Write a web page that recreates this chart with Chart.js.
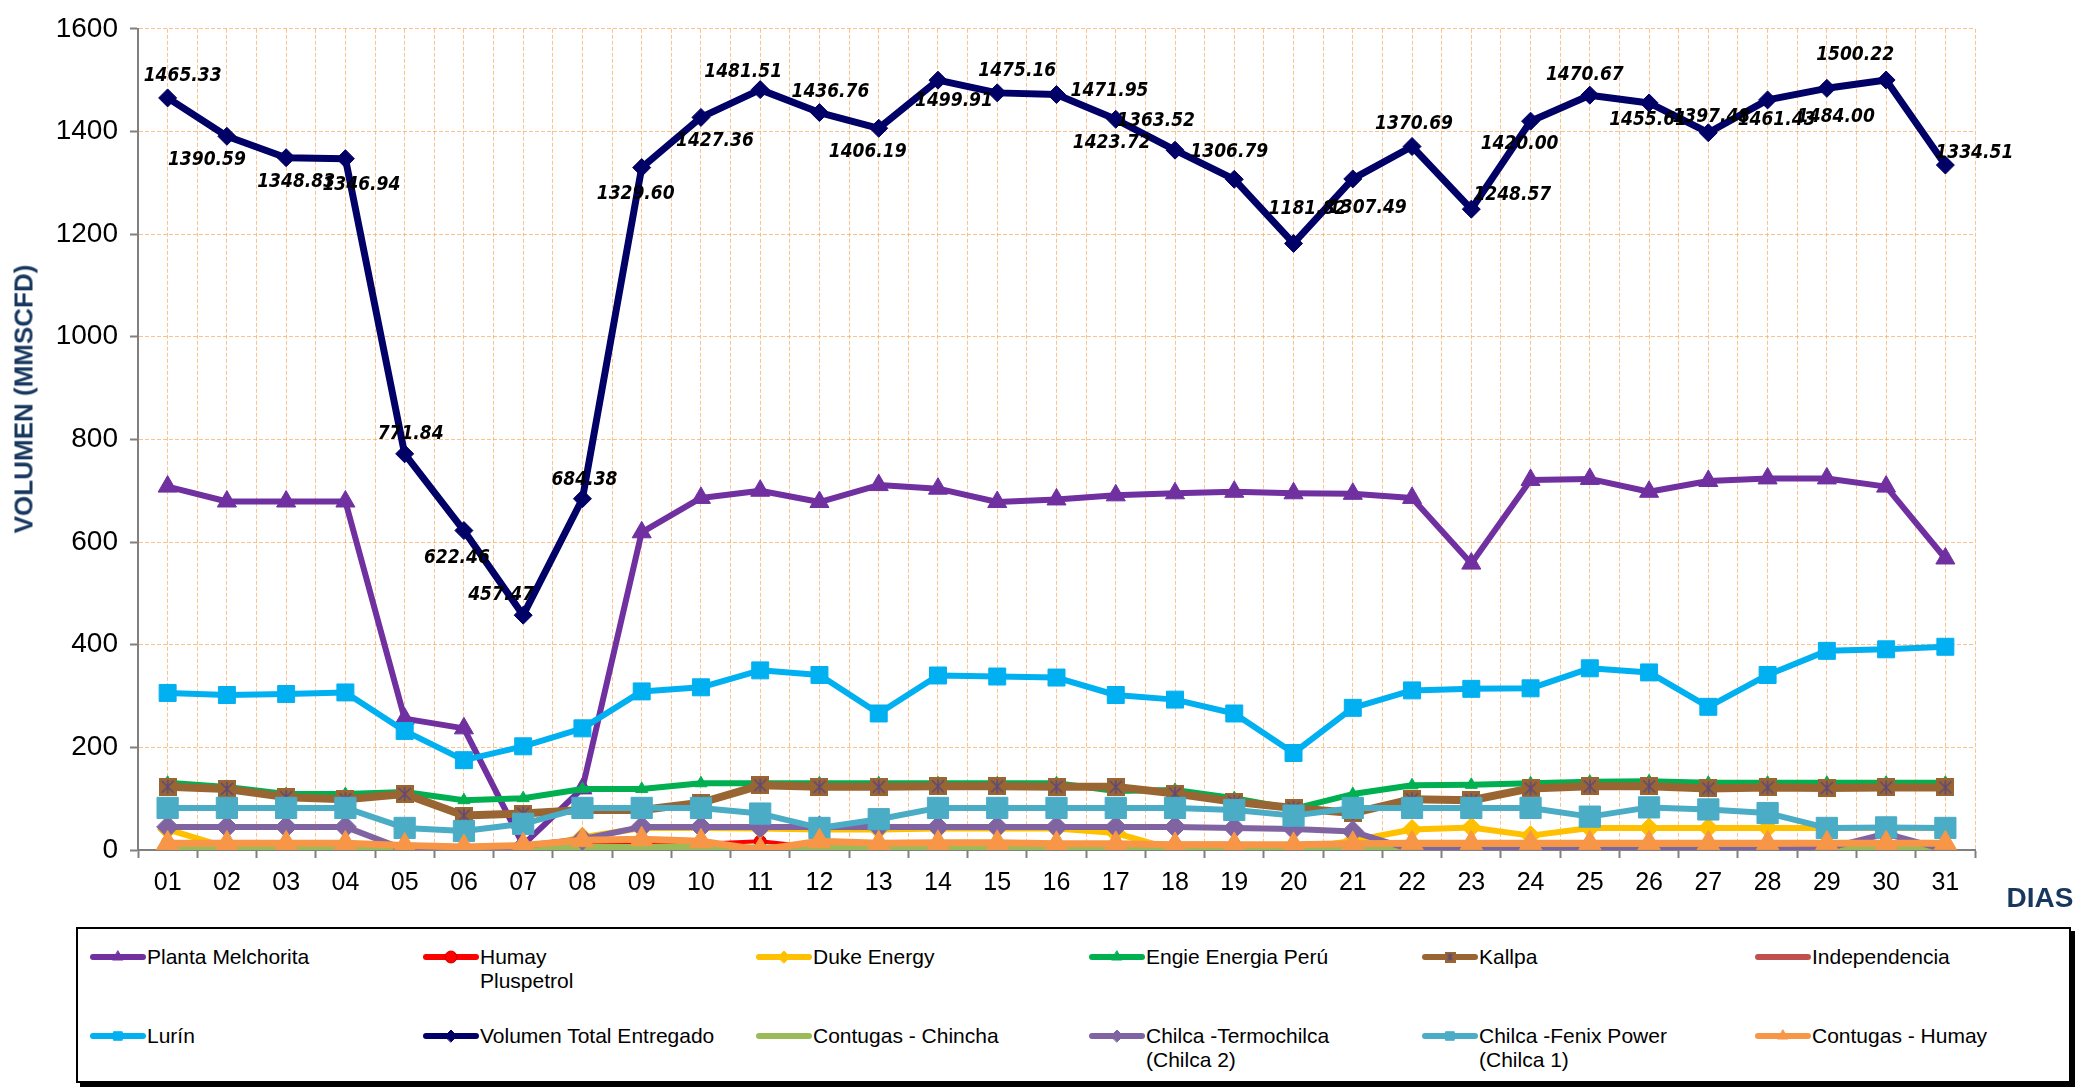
<!DOCTYPE html>
<html>
<head>
<meta charset="utf-8">
<script src="https://cdn.jsdelivr.net/npm/chart.js@4.4.1/dist/chart.umd.min.js"></script>
<style>
  html, body { margin: 0; padding: 0; background: #fff; }
  #page { position: relative; width: 2100px; height: 1089px; overflow: hidden; font-family: 'Liberation Sans', Arial, sans-serif; }
  #chartWrap { position: absolute; left: 0; top: 0; width: 2100px; height: 925px; }
  .axis-title { position: absolute; color: #17375E; font-weight: bold; white-space: nowrap; }
  #yTitle { left: 24px; top: 399px; font-size: 26px; transform: translate(-50%, -50%) rotate(-90deg); }
  #xTitle { left: 2040px; top: 898px; font-size: 28px; transform: translate(-50%, -50%); }
  #legend { position: absolute; left: 76px; top: 927px; width: 1995px; height: 156px; border: 2px solid #000;
            box-shadow: 4px 4px 0 #000; box-sizing: border-box; background: #fff; }
  .item { position: absolute; display: flex; align-items: flex-start; font-size: 21px; line-height: 24px; color: #000; white-space: pre; }
  .item canvas { flex: none; }
</style>
</head>
<body>
<div id="page">
  <div id="chartWrap"><canvas id="chart" width="2100" height="925"></canvas></div>
  <div class="axis-title" id="yTitle">VOLUMEN (MMSCFD)</div>
  <div class="axis-title" id="xTitle">DIAS</div>
  <div id="legend"></div>
</div>
<script>
// Días del mes
const days = ['01','02','03','04','05','06','07','08','09','10','11','12','13','14','15','16',
              '17','18','19','20','21','22','23','24','25','26','27','28','29','30','31'];

// Volúmenes diarios por punto de entrega (MMSCFD)
const melchorita = [708, 679, 679, 679, 256, 237, 10, 120, 619, 686, 700, 678, 711, 704, 678, 683,
                    691, 695, 698, 695, 694, 686, 558, 721, 723, 698, 719, 724, 724, 708, 568];
const humay = [15, 0, 0, 0, 0, 0, 0, 10, 12, 12, 17, 5, 3, 3, 3, 3,
               3, 12, 12, 0, 0, 0, 0, 0, 0, 0, 0, 0, 0, 0, 0];
const duke = [40, 5, 0, 0, 2, 0, 0, 25, 43, 43, 42, 40, 40, 42, 42, 42,
              33, 0, 0, 0, 18, 40, 44, 28, 43, 43, 43, 43, 43, 43, 43];
const engie = [131, 123, 109, 109, 113, 97, 101, 119, 119, 130, 130, 130, 130, 130, 130, 130,
               115, 117, 101, 80, 109, 126, 127, 130, 133, 134, 131, 131, 131, 131, 131];
const kallpa = [123, 119, 103, 99, 109, 67, 71, 78, 78, 92, 126, 123, 123, 124, 124, 123,
                123, 110, 94, 82, 72, 99, 97, 120, 124, 124, 120, 122, 121, 122, 122];
const independencia = [0, 0, 0, 0, 0, 0, 0, 0, 0, 0, 0, 0, 0, 0, 0, 0,
                       0, 0, 0, 0, 0, 0, 0, 0, 0, 0, 0, 0, 0, 0, 0];
const lurin = [306, 302, 304, 307, 232, 175, 202, 237, 309, 317, 350, 341, 266, 340, 338, 336,
               302, 293, 266, 189, 277, 311, 314, 315, 354, 346, 279, 341, 388, 391, 396];
const total = [1465.33, 1390.59, 1348.83, 1346.94, 771.84, 622.46, 457.47, 684.38, 1329.60, 1427.36,
               1481.51, 1436.76, 1406.19, 1499.91, 1475.16, 1471.95, 1423.72, 1363.52, 1306.79, 1181.82,
               1307.49, 1370.69, 1248.57, 1420.00, 1470.67, 1455.61, 1397.48, 1461.43, 1484.00, 1500.22, 1334.51];
const chincha = [5, 5, 5, 5, 5, 5, 5, 6, 6, 6, 5, 6, 6, 6, 6, 6,
                 6, 6, 6, 6, 6, 6, 6, 6, 6, 6, 6, 6, 6, 6, 6];
const termochilca = [45, 45, 45, 45, 1, 0, 8, 21, 45, 45, 45, 45, 45, 45, 45, 45,
                     45, 45, 43, 41, 36, 0, 0, 0, 0, 0, 0, 0, 3, 32, 0];
const fenix = [82, 82, 82, 82, 43, 37, 51, 82, 82, 82, 71, 43, 60, 82, 82, 82,
               82, 82, 78, 67, 82, 82, 82, 82, 65, 83, 79, 72, 43, 44, 43];
const contugasHumay = [13, 13, 13, 13, 9, 6, 9, 19, 21, 17, 0, 17, 13, 14, 14, 12,
                       12, 10, 10, 10, 12, 13, 13, 13, 13, 13, 13, 13, 13, 13, 13];

// Posición de las etiquetas del total respecto a cada punto (dx, dy en px)
const labelOffsets = [[15,-22],[-20,24],[10,24],[16,26],[6,-20],[-7,28],[-22,-20],[2,-19],[-6,26],[14,24],
                      [-17,-18],[11,-21],[-11,24],[16,21],[20,-22],[53,-3],[-4,24],[-19,-29],[-5,-27],[14,-34],
                      [15,29],[2,-22],[41,-14],[-11,23],[-5,-20],[-1,17],[3,-16],[9,20],[9,29],[-31,-25],[29,-12]];

const GRID = 'rgba(247,168,95,0.7)';
const AXIS = '#808080';
const FONT = "'Liberation Sans', Arial, sans-serif";
const LABEL_FONT = "italic bold 19px 'DejaVu Sans Condensed', 'DejaVu Sans', sans-serif";

// Marcador de Kallpa: cuadro marrón con estrella
function kallpaMarker(size) {
  const c = document.createElement('canvas');
  c.width = c.height = size;
  const g = c.getContext('2d');
  g.fillStyle = '#996633';
  g.fillRect(0, 0, size, size);
  g.strokeStyle = '#5F497A';
  g.lineWidth = 1.6;
  g.beginPath();
  g.moveTo(3, 3); g.lineTo(size - 3, size - 3);
  g.moveTo(size - 3, 3); g.lineTo(3, size - 3);
  g.moveTo(size / 2, 2); g.lineTo(size / 2, size - 2);
  g.stroke();
  return c;
}

const SERIES = [
  { label: 'Planta Melchorita', data: melchorita, color: '#7030A0', style: 'triangle', r: 11, w: 6 },
  { label: 'Humay\nPluspetrol', data: humay, color: '#FF0000', style: 'circle', r: 6, w: 4, edge: '#C00000' },
  { label: 'Duke Energy', data: duke, color: '#FFC000', style: 'rectRot', r: 10, w: 6 },
  { label: 'Engie Energia Perú', data: engie, color: '#00B050', style: 'triangle', r: 7, w: 6 },
  { label: 'Kallpa', data: kallpa, color: '#996633', style: kallpaMarker(18), legendStyle: kallpaMarker(11), r: 9, w: 8 },
  { label: 'Independencia', data: independencia, color: '#C0504D', style: false, r: 0, w: 4 },
  { label: 'Lurín', data: lurin, color: '#00B0F0', style: 'rect', r: 12, w: 6 },
  { label: 'Volumen Total Entregado', data: total, color: '#000066', style: 'rectRot', r: 9, w: 7 },
  { label: 'Contugas - Chincha', data: chincha, color: '#9BBB59', style: false, r: 0, w: 6 },
  { label: 'Chilca -Termochilca\n(Chilca 2)', data: termochilca, color: '#8064A2', style: 'rectRot', r: 11, w: 6 },
  { label: 'Chilca -Fenix Power\n(Chilca 1)', data: fenix, color: '#4BACC6', style: 'rect', r: 15, w: 6 },
  { label: 'Contugas - Humay', data: contugasHumay, color: '#F79646', style: 'triangle', r: 13, w: 7 },
];

const totalLabels = {
  id: 'totalLabels',
  afterDatasetsDraw(chart) {
    const idx = SERIES.findIndex(s => s.data === total);
    const meta = chart.getDatasetMeta(idx);
    const ctx = chart.ctx;
    ctx.save();
    ctx.font = LABEL_FONT;
    ctx.fillStyle = '#000';
    ctx.textAlign = 'center';
    ctx.textBaseline = 'middle';
    meta.data.forEach((pt, i) => {
      const [dx, dy] = labelOffsets[i];
      ctx.fillText(total[i].toFixed(2), pt.x + dx, pt.y + dy);
    });
    ctx.restore();
  }
};

new Chart(document.getElementById('chart'), {
  type: 'line',
  data: {
    labels: days,
    datasets: SERIES.map((s, i) => ({
      label: s.label.replace('\n', ' '),
      data: s.data,
      order: SERIES.length - i,
      borderColor: s.color,
      backgroundColor: s.color,
      borderWidth: s.w,
      borderJoinStyle: 'round',
      borderCapStyle: 'round',
      tension: 0,
      pointStyle: s.style,
      pointRadius: s.style ? s.r : 0,
      pointBackgroundColor: s.color,
      pointBorderColor: s.edge || s.color,
      pointBorderWidth: 1,
    })),
  },
  options: {
    responsive: false,
    animation: false,
    events: [],
    layout: { padding: { top: 18, right: 125, left: 0, bottom: 0 } },
    plugins: { legend: { display: false }, tooltip: { enabled: false } },
    scales: {
      x: {
        type: 'category', offset: true, position: 'bottom',
        grid: { offset: true, color: GRID, lineWidth: 1, tickColor: AXIS, tickLength: 8, tickWidth: 2 },
        border: { color: AXIS, width: 2, dash: [4, 2] },
        ticks: { color: '#000', font: { family: FONT, size: 25 }, padding: 10, autoSkip: false, maxRotation: 0 },
        afterFit: s => { s.height = 75; },
      },
      xc: {
        type: 'category', offset: true, position: 'bottom',
        grid: { offset: false, color: GRID, lineWidth: 1, drawTicks: false },
        border: { display: false, dash: [4, 2] },
        ticks: { display: false },
        afterFit: s => { s.height = 0; },
      },
      y: {
        min: 0, max: 1600,
        grid: { color: GRID, lineWidth: 1, tickColor: AXIS, tickLength: 8, tickWidth: 2 },
        border: { color: AXIS, width: 2, dash: [4, 2] },
        ticks: { stepSize: 200, color: '#000', font: { family: FONT, size: 28 }, padding: 12, callback: v => String(v) },
        afterFit: s => { s.width = 138; },
      },
    },
  },
  plugins: [totalLabels],
});

// Leyenda HTML en 6 columnas
const legend = document.getElementById('legend');
SERIES.forEach((s, i) => {
  const col = i % 6, row = Math.floor(i / 6);
  const item = document.createElement('div');
  item.className = 'item';
  item.style.left = (11 + col * 333) + 'px';
  item.style.top = (16 + row * 79) + 'px';
  const cv = document.createElement('canvas');
  cv.width = 58; cv.height = 24;
  const g = cv.getContext('2d');
  g.strokeStyle = s.color; g.lineWidth = 6; g.lineCap = 'round';
  g.beginPath(); g.moveTo(4, 12); g.lineTo(54, 12); g.stroke();
  if (s.style) {
    g.fillStyle = s.color;
    g.strokeStyle = s.edge || s.color;
    g.lineWidth = 1;
    Chart.helpers.drawPoint(g, { pointStyle: s.legendStyle || s.style, radius: 6, rotation: 0, borderWidth: 1 }, 29, 12);
  }
  const txt = document.createElement('span');
  txt.textContent = s.label;
  item.appendChild(cv);
  item.appendChild(txt);
  legend.appendChild(item);
});
</script>
</body>
</html>
